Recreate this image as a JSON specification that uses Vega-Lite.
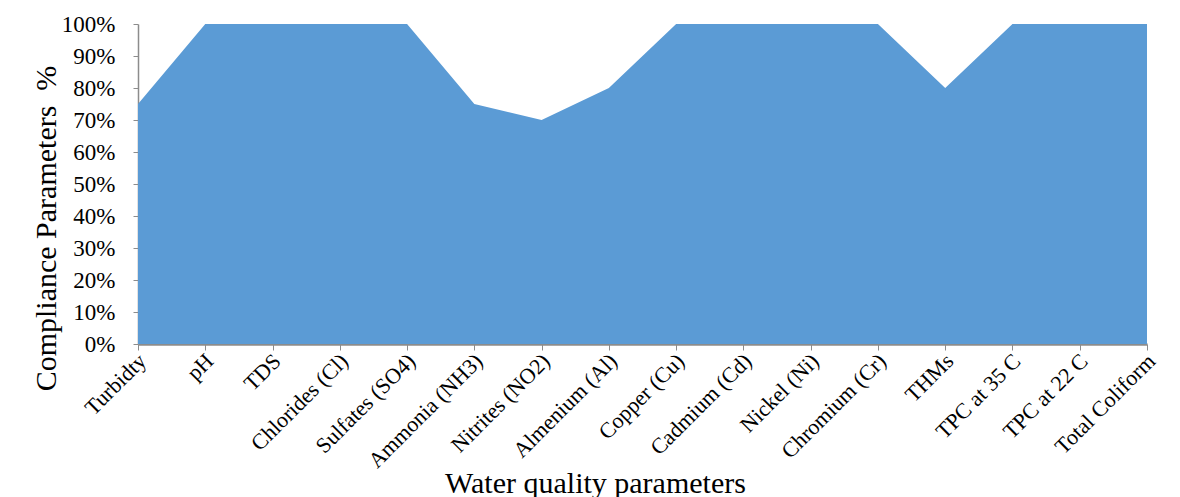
{
  "$schema": "https://vega.github.io/schema/vega-lite/v6.json",
  "width": 1009,
  "height": 320,
  "autosize": {"type": "none"},
  "padding": {"left": 138, "top": 24, "right": 33, "bottom": 153},
  "background": "white",
  "config": {
    "view": {"stroke": null},
    "font": "Liberation Serif",
    "axis": {"grid": false, "domainColor": "#8c8c8c", "tickColor": "#8c8c8c", "labelColor": "black", "titleColor": "black", "labelFont": "Liberation Serif", "titleFont": "Liberation Serif", "titleFontWeight": "normal"}
  },
  "data": {"values": [
    {"param": "Turbidty", "pct": 0.75},
    {"param": "pH", "pct": 1.0},
    {"param": "TDS", "pct": 1.0},
    {"param": "Chlorides (Cl)", "pct": 1.0},
    {"param": "Sulfates (SO4)", "pct": 1.0},
    {"param": "Ammonia (NH3)", "pct": 0.75},
    {"param": "Nitrites (NO2)", "pct": 0.70},
    {"param": "Almenium (Al)", "pct": 0.80},
    {"param": "Copper (Cu)", "pct": 1.0},
    {"param": "Cadmium (Cd)", "pct": 1.0},
    {"param": "Nickel (Ni)", "pct": 1.0},
    {"param": "Chromium (Cr)", "pct": 1.0},
    {"param": "THMs", "pct": 0.80},
    {"param": "TPC at 35 C", "pct": 1.0},
    {"param": "TPC at 22 C", "pct": 1.0},
    {"param": "Total Coliform", "pct": 1.0}
  ]},
  "mark": {"type": "area", "color": "#5B9BD5", "opacity": 1},
  "encoding": {
    "x": {
      "field": "param", "type": "ordinal", "sort": null,
      "scale": {"type": "point", "padding": 0},
      "axis": {
        "title": "Water quality parameters", "titleFontSize": 30,
        "titleX": 457, "titleY": 148, "titleAlign": "center", "titleBaseline": "alphabetic", "titleAnchor": null,
        "labelAngle": -45, "labelAlign": "right", "labelBaseline": "top", "labelFontSize": 22,
        "labelPadding": 0, "labelOffset": -3, "tickSize": 6, "domainWidth": 2.5, "labelOverlap": false
      }
    },
    "y": {
      "field": "pct", "type": "quantitative",
      "scale": {"domain": [0, 1], "nice": false},
      "axis": {
        "title": "Compliance Parameters\u00a0\u00a0%", "titleFontSize": 30,
        "titleX": -92, "titleY": 204, "titleAlign": "center", "titleBaseline": "middle", "titleAngle": -90, "titleAnchor": null,
        "format": ".0%", "values": [0, 0.1, 0.2, 0.3, 0.4, 0.5, 0.6, 0.7, 0.8, 0.9, 1.0],
        "labelFontSize": 23, "labelPadding": 18, "tickSize": 5, "domainWidth": 1.5
      }
    }
  }
}
